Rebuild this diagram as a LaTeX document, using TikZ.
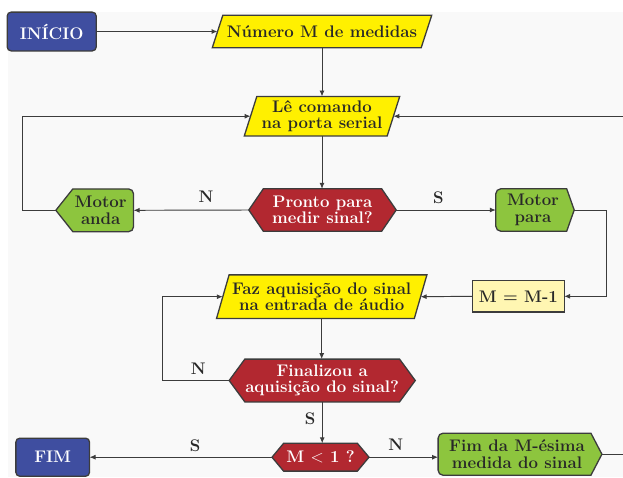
\documentclass[tikz,border=0pt]{standalone}
\usepackage{fontspec}
\usetikzlibrary{arrows.meta,backgrounds}
\definecolor{cblue}{RGB}{63,78,160}
\definecolor{cyel}{RGB}{255,240,0}
\definecolor{cred}{RGB}{178,40,48}
\definecolor{cgreen}{RGB}{141,197,62}
\definecolor{clyel}{RGB}{255,246,178}
\definecolor{cline}{RGB}{60,60,60}
\definecolor{ctext}{RGB}{40,40,40}
\definecolor{cbg}{RGB}{249,249,249}
\tikzset{
  box/.style={rectangle, draw=none, inner sep=0pt, align=center,
    font=\fontsize{16.8}{16.3}\selectfont\bfseries, text=ctext},
  wbox/.style={box, text=white},
  shapeline/.style={draw=cline, line width=1.3pt, line join=miter},
  conn/.style={draw=cline, line width=0.95pt, -{Latex[length=6pt,width=5pt]}},
  lbl/.style={font=\fontsize{16.8}{16}\selectfont\bfseries, text=ctext, inner sep=0pt},
}
% backgrounds of the nodes
\newcommand\rrbg[2]{\path[shapeline, fill=#2, rounded corners=4pt] (#1.north west) rectangle (#1.south east);}
\newcommand\rectbg[2]{\path[shapeline, fill=#2] (#1.north west) rectangle (#1.south east);}
\newcommand\parbg[2]{\path[shapeline, fill=cyel] ([xshift=#2]#1.north west) -- (#1.north east) -- ([xshift=-#2]#1.south east) -- (#1.south west) -- cycle;}
\newcommand\hexbg[2]{\path[shapeline, fill=cred] (#1.west) -- ([xshift=#2]#1.north west) -- ([xshift=-#2]#1.north east) -- (#1.east) -- ([xshift=-#2]#1.south east) -- ([xshift=#2]#1.south west) -- cycle;}
\newcommand\sigright[2]{\path[shapeline, fill=cgreen] (#1.east) -- ([xshift=-#2]#1.north east) -- ([xshift=5pt]#1.north west) arc[start angle=90,end angle=180,radius=5pt] -- ([yshift=5pt]#1.south west) arc[start angle=180,end angle=270,radius=5pt] -- ([xshift=-#2]#1.south east) -- cycle;}
\newcommand\sigleft[2]{\path[shapeline, fill=cgreen] (#1.west) -- ([xshift=#2]#1.north west) -- ([xshift=-5pt]#1.north east) arc[start angle=90,end angle=0,radius=5pt] -- ([yshift=5pt]#1.south east) arc[start angle=0,end angle=-90,radius=5pt] -- ([xshift=#2]#1.south west) -- cycle;}
\begin{document}
\begin{tikzpicture}[x=1pt,y=-1pt]
\useasboundingbox (0,0) rectangle (623,477);
\clip (0,0) rectangle (623,477);

% nodes
\node[wbox, minimum width=88.7pt, minimum height=38.4pt] (inicio) at (51.7,31.5) {INÍCIO};
\node[box, minimum width=219pt, minimum height=32pt] (numero) at (322,31.5) {Número M de medidas};
\node[box, minimum width=155pt, minimum height=39pt] (le) at (322,116.2) {Lê comando\\na porta serial};
\node[wbox, minimum width=147pt, minimum height=42pt] (pronto) at (322.5,210) {Pronto para\\medir sinal?};
\node[box, minimum width=77.3pt, minimum height=42.4pt] (anda) at (94.7,210.3) {\hspace*{12pt}Motor\\\hspace*{12pt}anda};
\node[box, minimum width=78pt, minimum height=42pt] (para) at (535,210) {Motor\hspace*{4pt}\\para\hspace*{4pt}};
\node[box, minimum width=91.3pt, minimum height=30.7pt] (mm1) at (518.3,296.3) {M = M-1};
\node[box, minimum width=210pt, minimum height=43.3pt] (faz) at (321.7,296.7) {Faz aquisição do sinal\\na entrada de áudio};
\node[wbox, minimum width=185.7pt, minimum height=42.4pt] (final) at (322.2,380.5) {Finalizou a\\aquisição do sinal?};
\node[wbox, minimum width=96.6pt, minimum height=27.4pt] (m1) at (320.5,457.2) {M $<$ 1 ?};
\node[wbox, minimum width=73.3pt, minimum height=37.7pt] (fim) at (52.7,457.2) {FIM};
\node[box, minimum width=163.4pt, minimum height=41.7pt] (fimM) at (520,454.2) {Fim da M-ésima\hspace*{6pt}\\medida do sinal\hspace*{6pt}};

% labels
\node[lbl] (l1) at (206,197) {N};
\node[lbl] (l2) at (438.3,197.3) {S};
\node[lbl] (l3) at (198.3,368.3) {N};
\node[lbl] (l4) at (310,418.3) {S};
\node[lbl] (l5) at (195,446) {S};
\node[lbl] (l6) at (395.7,445) {N};

% bend points
\coordinate (pA) at (22.7,116.2);
\coordinate (pB) at (606.7,296.3);
\coordinate (pC) at (162.3,296.7);
\coordinate (pD) at (650,454.2);
\coordinate (pE) at (650,116.2);

% connectors
\draw[conn] (inicio.east) -- ([xshift=5.25pt]numero.west);
\draw[conn] (numero.south) -- (le.north);
\draw[conn] (le.south) -- (le.south |- pronto.north);
\draw[conn] (pronto.west) -- (anda.east);
\draw[conn] (pronto.east) -- (para.west);
\draw[conn] (anda.west) -- (anda.west -| pA) -- (pA) -- ([xshift=6.25pt]le.west);
\draw[conn] (para.east) -| (pB) -- (mm1.east);
\draw[conn] (mm1.west) -- ([xshift=-6.3pt]faz.east);
\draw[conn] (faz.south) -- (faz.south |- final.north);
\draw[conn] (final.west) -| (pC) -- ([xshift=6.3pt]faz.west);
\draw[conn] (final.south) -- (final.south |- m1.north);
\draw[conn] (m1.west) -- (m1.west -| fim.east);
\draw[conn] (m1.east) -- (m1.east -| fimM.west);
\draw[conn] (fimM.east) -- (pD) -- (pE) -- ([xshift=-6.25pt]le.east);

% shapes behind the text
\begin{pgfonlayer}{background}
\fill[cbg] (8,12) rectangle (623,477);
\rrbg{inicio}{cblue}
\rrbg{fim}{cblue}
\parbg{numero}{10.5pt}
\parbg{le}{12.5pt}
\parbg{faz}{12.6pt}
\hexbg{pronto}{14.5pt}
\hexbg{final}{15.7pt}
\hexbg{m1}{11.6pt}
\sigleft{anda}{17pt}
\sigright{para}{7.5pt}
\sigright{fimM}{11pt}
\rectbg{mm1}{clyel}
\end{pgfonlayer}
\end{tikzpicture}
\end{document}
